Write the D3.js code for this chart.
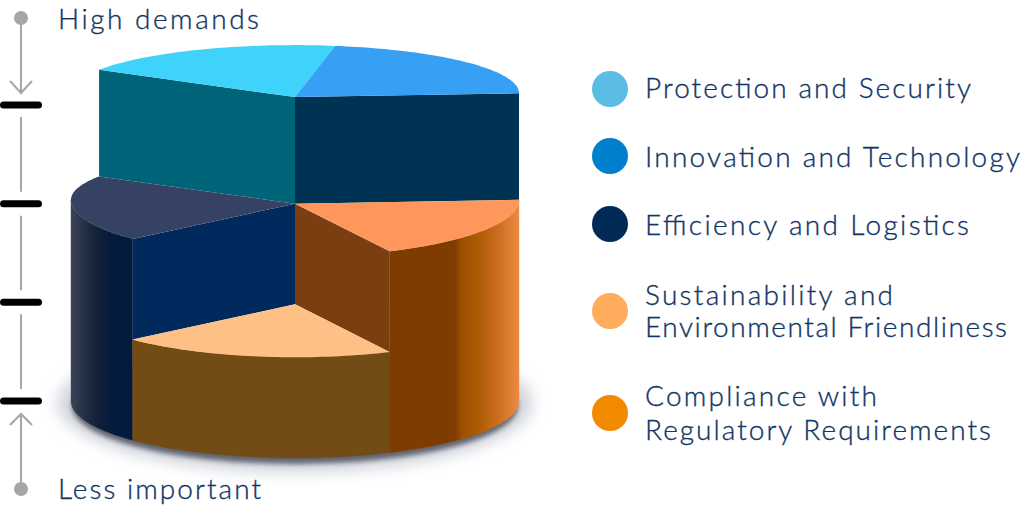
<!DOCTYPE html>
<html><head><meta charset="utf-8">
<script src="https://cdn.jsdelivr.net/npm/d3@7"></script>
<style>html,body{margin:0;padding:0;background:#fff}svg{display:block}</style>
</head><body><svg id="c" width="1024" height="508"></svg>
<script>
// --- data ---
const sliceNames = ["Protection and Security","Innovation and Technology","Compliance with Regulatory Requirements","Sustainability and Environmental Friendliness","Efficiency and Logistics"];
const sliceShares = [19.8,22.2,18,19.85,20.15];
const sliceLevels = [3.08,3.08,2,0.98,2];
const baseLevel = -0.04;
const axisTicks = [0,1,2,3];
const axisTexts = ["High demands","Less important"];
const legendLines = [["Protection and Security"],["Innovation and Technology"],["Efficiency and Logistics"],["Sustainability and","Environmental Friendliness"],["Compliance with","Regulatory Requirements"]];
const legendColors = ["#5bbde3","#0080cc","#022a56","#ffad5c","#f28a00"];
const topColors = ["#3fd2fb","#36a1f4","#ff965c","#ffc085","#354263"];
const startWallColors = ["#006478","#003253","#7a3f10","#724b15","#002a5e"];
const endWallColors = ["#006478","#003253","#7a3f10","#724b15","#002a5e"];
const textColor = "#123565";

const svg = d3.select("#c");
const defs = svg.append("defs");
const RAD = Math.PI/180;

// scales
const yL = d3.scaleLinear().domain([0,3]).range([401,105]);
const xU = d3.scaleLinear().domain([-1,1]).range([71,519]);
const rimOff = -4, ryBack = 48, ryFront = 57;

const pie = d3.pie().sort(null).value(d=>d).startAngle(-61*RAD).endAngle(299*RAD);
const arcs = pie(sliceShares).map((a,i)=>({i,start:a.startAngle,end:a.endAngle,level:sliceLevels[i],
  prev:(i+sliceLevels.length-1)%sliceLevels.length,next:(i+1)%sliceLevels.length}));

const rimX = a => xU(Math.sin(a));
const rimY = (a,h) => { const c=Math.cos(a); return yL(h)+rimOff-c*(c>0?ryBack:ryFront); };
const apex = h => [xU(0), yL(h)];
const rimPts = (a0,a1,h) => { const n=Math.max(2,Math.ceil(Math.abs(a1-a0)/(1.5*RAD)));
  return d3.range(n+1).map(k=>{const a=a0+(a1-a0)*k/n;return [rimX(a),rimY(a,h)];}); };
const line = d3.line();

// gradients for the curved walls
function grad(id,stops){const g=defs.append("linearGradient").attr("id",id).attr("gradientUnits","userSpaceOnUse")
  .attr("x1",xU(-1)).attr("x2",xU(1)).attr("y1",0).attr("y2",0);
  stops.forEach(s=>g.append("stop").attr("offset",s[0]).attr("stop-color",s[1]));}
grad("wall2",[[0,"#7f3c00"],[(390-71)/448,"#7f3c00"],[(455-71)/448,"#7f3c00"],[(462-71)/448,"#9c5000"],[(478-71)/448,"#ad5b04"],[(497-71)/448,"#c96d1e"],[1,"#ee8a42"]]);
grad("wall4",[[0,"#3b4356"],[(86-71)/448,"#232d44"],[(100-71)/448,"#0f1e3a"],[(116-71)/448,"#011b3f"],[1,"#001d44"]]);
const outerFills = [null,null,"url(#wall2)","#724b15","url(#wall4)"];

// shadow
const f1=defs.append("filter").attr("id","b1").attr("x","-20%").attr("y","-40%").attr("width","140%").attr("height","180%");
f1.append("feGaussianBlur").attr("stdDeviation",7);
const f2=defs.append("filter").attr("id","b2").attr("x","-20%").attr("y","-40%").attr("width","140%").attr("height","180%");
f2.append("feGaussianBlur").attr("stdDeviation",2.5);
const shadow = svg.append("g");
shadow.append("ellipse").attr("cx",xU(0)).attr("cy",yL(baseLevel)+rimOff+2).attr("rx",xU(1)-xU(0)+14).attr("ry",ryFront+13)
  .attr("fill","#c8ccd6").attr("opacity",.8).attr("filter","url(#b1)");
shadow.append("ellipse").attr("cx",xU(0)).attr("cy",yL(baseLevel)+rimOff+5).attr("rx",xU(1)-xU(0)-1).attr("ry",ryFront+1)
  .attr("fill","#62656f").attr("filter","url(#b2)");

// slices, highest first so lower ones paint over
const pieG = svg.append("g");
const order = arcs.slice().sort((a,b)=>d3.descending(a.level,b.level));
const front0 = 90*RAD, front1 = 270*RAD;
order.forEach(s=>{
  const [ax0,ay0]=apex(s.level);
  // radial walls where the neighbour is lower
  const pl=sliceLevels[s.prev], nl=sliceLevels[s.next];
  if(pl<s.level){
    pieG.append("path").attr("fill",startWallColors[s.i]).attr("d",line([[ax0,ay0],[rimX(s.start),rimY(s.start,s.level)],[rimX(s.start),rimY(s.start,pl)],apex(pl)])+"Z");
  }
  if(nl<s.level){
    pieG.append("path").attr("fill",endWallColors[s.i]).attr("d",line([[ax0,ay0],[rimX(s.end),rimY(s.end,s.level)],[rimX(s.end),rimY(s.end,nl)],apex(nl)])+"Z");
  }
  // curved wall down to the base
  const a0=Math.max(s.start,front0), a1=Math.min(s.end,front1);
  if(a1>a0 && outerFills[s.i]){
    const up=rimPts(a0,a1,s.level), dn=rimPts(a1,a0,baseLevel);
    pieG.append("path").attr("fill",outerFills[s.i]).attr("stroke",outerFills[s.i]).attr("stroke-width",.4).attr("d",line(up.concat(dn))+"Z");
  }
  // top
  pieG.append("path").attr("fill",topColors[s.i]).attr("d",line([[ax0,ay0]].concat(rimPts(s.start,s.end,s.level)))+"Z");
});

// demand axis
const axX = 21, axisColor="#a6a6a6";
const axisG = svg.append("g");
const tickYs = axisTicks.map(yL);
const yTop = tickYs[3], yBot = tickYs[0];
const seg=(y1,y2)=>axisG.append("line").attr("x1",axX).attr("x2",axX).attr("y1",y1).attr("y2",y2).attr("stroke",axisColor).attr("stroke-width",2);
seg(18,yTop-11); seg(yBot+13,489);
d3.pairs(tickYs.slice().reverse()).forEach(p=>seg(p[0]+12,p[1]-12));
axisG.append("circle").attr("cx",axX).attr("cy",18).attr("r",7).attr("fill",axisColor);
axisG.append("circle").attr("cx",axX).attr("cy",489).attr("r",7).attr("fill",axisColor);
axisG.append("path").attr("fill","none").attr("stroke",axisColor).attr("stroke-width",2).attr("d",line([[axX-11,yTop-24],[axX,yTop-12],[axX+11,yTop-24]]));
axisG.append("path").attr("fill","none").attr("stroke",axisColor).attr("stroke-width",2).attr("d",line([[axX-11,yBot+24],[axX,yBot+13],[axX+11,yBot+24]]));
tickYs.forEach(y=>axisG.append("rect").attr("x",0).attr("width",42).attr("y",y-3.5).attr("height",7).attr("rx",3.5).attr("fill","#000"));

function label(t,x,y,w){
  svg.append("text").attr("x",x).attr("y",y).attr("font-family","Lato").attr("font-size",28).attr("font-weight",300)
   .attr("fill",textColor).attr("stroke",textColor).attr("stroke-width",.35)
   .attr("textLength",w).attr("lengthAdjust","spacing").text(t);
}
const axisWidths=[201,203], axisBase=[28.5,499];
axisTexts.forEach((t,i)=>label(t,58,axisBase[i],axisWidths[i]));

// legend
const legendY=[89,156,224,311,413];
const legendBase=[[98],[167],[235],[304.5,337],[406,440]];
const legendWidths=[[326],[375],[324],[248,362],[232,346]];
legendLines.forEach((ls,i)=>{
  svg.append("circle").attr("cx",610).attr("cy",legendY[i]).attr("r",18).attr("fill",legendColors[i]);
  ls.forEach((t,j)=>label(t,645,legendBase[i][j],legendWidths[i][j]));
});
</script></body></html>
